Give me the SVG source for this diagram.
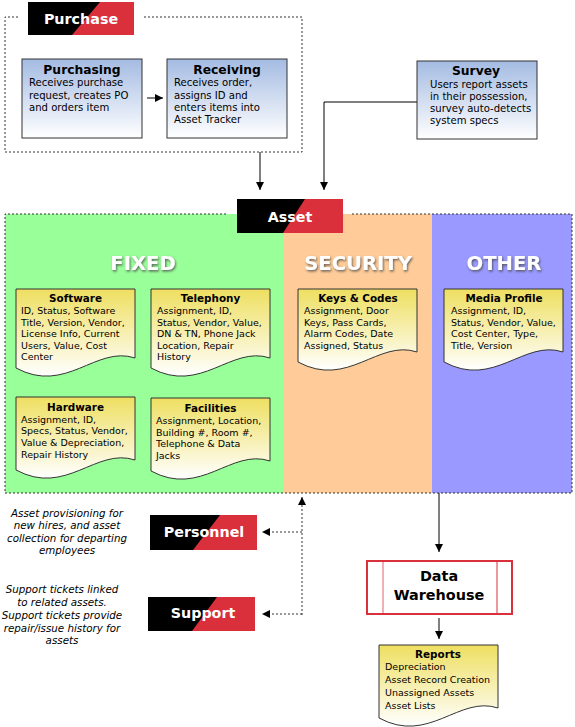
<svg xmlns="http://www.w3.org/2000/svg" xmlns:xlink="http://www.w3.org/1999/xlink" width="575" height="727" viewBox="0 0 575 727">
<style>
text{font-family:"DejaVu Sans",Verdana,sans-serif;fill:#000}
.lbl{font-weight:bold;font-size:14.3px;fill:#fff;text-anchor:middle}
.bt{font-weight:bold;font-size:12.3px;text-anchor:middle}
.bx{font-size:10.1px}
.dt{font-weight:bold;font-size:10.4px;text-anchor:middle}
.dx{font-size:9.5px}
.hd{font-weight:bold;font-size:19.6px;fill:#fff;text-anchor:middle}
.it{font-style:italic;font-size:10.3px;text-anchor:middle}
.box{fill:url(#gb);stroke:#333;stroke-width:1}
.doc{fill:url(#gy);stroke:#333;stroke-width:1}
.dot{fill:none;stroke:#333;stroke-width:1;stroke-dasharray:2,2}
.ln{fill:none;stroke:#000;stroke-width:1}
.red{fill:#d9303c}
</style>
<defs>
<linearGradient id="gb" x1="0" y1="0" x2="0" y2="1"><stop offset="0" stop-color="#a4bbe2"/><stop offset="1" stop-color="#ffffff"/></linearGradient>
<linearGradient id="gy" x1="0" y1="0" x2="0" y2="1"><stop offset="0" stop-color="#eedf60"/><stop offset="1" stop-color="#ffffff"/></linearGradient>
<path id="docp" d="M0,0 H119 V63 C80,50 50,100 0,73 Z"/>
<path id="docp2" d="M0,0 H119 V69 C80,56 50,106 0,79 Z"/>
<marker id="ar" markerWidth="8" markerHeight="8" refX="8" refY="4" orient="auto" markerUnits="userSpaceOnUse"><path d="M0,0 L8,4 L0,8 z" fill="#000"/></marker>
<filter id="sh" x="-20%" y="-30%" width="140%" height="160%"><feDropShadow dx="1" dy="1.5" stdDeviation="1.2" flood-color="#444" flood-opacity="0.8"/></filter>
</defs>

<g id="asset-area">
<rect x="5" y="214" width="278" height="279" fill="#99ff99"/>
<rect x="283" y="214" width="149" height="279" fill="#ffcc99"/>
<rect x="432" y="214" width="140" height="279" fill="#9999ff"/>
<path class="dot" d="M226,214 H5 V493 H572 V214 H352"/>
<text class="hd" x="143" y="270" filter="url(#sh)">FIXED</text>
<text class="hd" x="358" y="270" filter="url(#sh)">SECURITY</text>
<text class="hd" x="504" y="270" filter="url(#sh)">OTHER</text>
</g>

<g id="purchase-group">
<path class="dot" d="M18,17 H5 V152 H302 V17 H143"/>
</g>

<g id="connectors">
<line class="ln" x1="147" y1="98" x2="163" y2="98" marker-end="url(#ar)"/>
<line class="ln" x1="260" y1="152" x2="260" y2="190" marker-end="url(#ar)"/>
<polyline class="ln" points="417,102 324,102 324,190" marker-end="url(#ar)"/>
<line class="ln" x1="439" y1="493" x2="439" y2="552" marker-end="url(#ar)"/>
<line class="ln" x1="439" y1="618" x2="439" y2="639" marker-end="url(#ar)"/>
<line class="dot" x1="302" y1="615" x2="302" y2="497" marker-end="url(#ar)"/>
<line class="dot" x1="302" y1="532" x2="262" y2="532" marker-end="url(#ar)"/>
<line class="dot" x1="302" y1="614" x2="262" y2="614" marker-end="url(#ar)"/>
</g>

<g id="purchase-label">
<rect x="28" y="2" width="106" height="33" class="red"/>
<polygon points="28,2 100,2 72,35 28,35" fill="#000"/>
<text class="lbl" x="81" y="24">Purchase</text>
</g>

<g id="purchasing">
<rect class="box" x="22" y="59" width="120" height="79"/>
<text class="bt" x="82" y="74">Purchasing</text>
<text class="bx" x="29" y="86">Receives purchase</text>
<text class="bx" x="29" y="99">request, creates PO</text>
<text class="bx" x="29" y="111">and orders item</text>
</g>

<g id="receiving">
<rect class="box" x="167" y="59" width="120" height="79"/>
<text class="bt" x="227" y="74">Receiving</text>
<text class="bx" x="174" y="86">Receives order,</text>
<text class="bx" x="174" y="99">assigns ID and</text>
<text class="bx" x="174" y="111">enters items into</text>
<text class="bx" x="174" y="123">Asset Tracker</text>
</g>

<g id="survey">
<rect class="box" x="417" y="61" width="120" height="78"/>
<text class="bt" x="476" y="75">Survey</text>
<text class="bx" x="430" y="88">Users report assets</text>
<text class="bx" x="430" y="100">in their possession,</text>
<text class="bx" x="430" y="112">survey auto-detects</text>
<text class="bx" x="430" y="124">system specs</text>
</g>

<g id="asset-label">
<rect x="237" y="199" width="106" height="34" class="red"/>
<polygon points="237,199 305,199 283,233 237,233" fill="#000"/>
<text class="lbl" x="290" y="222">Asset</text>
</g>

<g id="software">
<use href="#docp2" class="doc" x="16" y="289"/>
<text class="dt" x="75.5" y="302">Software</text>
<text class="dx" x="21" y="314">ID, Status, Software</text>
<text class="dx" x="21" y="326">Title, Version, Vendor,</text>
<text class="dx" x="21" y="337">License Info, Current</text>
<text class="dx" x="21" y="349">Users, Value, Cost</text>
<text class="dx" x="21" y="360">Center</text>
</g>

<g id="telephony">
<use href="#docp2" class="doc" x="151" y="289"/>
<text class="dt" x="210.5" y="302">Telephony</text>
<text class="dx" x="157" y="314">Assignment, ID,</text>
<text class="dx" x="157" y="326">Status, Vendor, Value,</text>
<text class="dx" x="157" y="337">DN &amp; TN, Phone Jack</text>
<text class="dx" x="157" y="349">Location, Repair</text>
<text class="dx" x="157" y="360">History</text>
</g>

<g id="hardware">
<use href="#docp" class="doc" x="16" y="397"/>
<text class="dt" x="75.5" y="411">Hardware</text>
<text class="dx" x="21" y="423">Assignment, ID,</text>
<text class="dx" x="21" y="434">Specs, Status, Vendor,</text>
<text class="dx" x="21" y="446">Value &amp; Depreciation,</text>
<text class="dx" x="21" y="458">Repair History</text>
</g>

<g id="facilities">
<use href="#docp" class="doc" x="151" y="398"/>
<text class="dt" x="210.5" y="412">Facilities</text>
<text class="dx" x="156" y="424">Assignment, Location,</text>
<text class="dx" x="156" y="436">Building #, Room #,</text>
<text class="dx" x="156" y="447">Telephone &amp; Data</text>
<text class="dx" x="156" y="459">Jacks</text>
</g>

<g id="keys-codes">
<use href="#docp" class="doc" x="298" y="289"/>
<text class="dt" x="358" y="302">Keys &amp; Codes</text>
<text class="dx" x="304" y="314">Assignment, Door</text>
<text class="dx" x="304" y="326">Keys, Pass Cards,</text>
<text class="dx" x="304" y="337">Alarm Codes, Date</text>
<text class="dx" x="304" y="349">Assigned, Status</text>
</g>

<g id="media-profile">
<use href="#docp" class="doc" x="444" y="289"/>
<text class="dt" x="504" y="302">Media Profile</text>
<text class="dx" x="451" y="314">Assignment, ID,</text>
<text class="dx" x="451" y="326">Status, Vendor, Value,</text>
<text class="dx" x="451" y="337">Cost Center, Type,</text>
<text class="dx" x="451" y="349">Title, Version</text>
</g>

<g id="personnel-note">
<text class="it" x="67" y="517">Asset provisioning for</text>
<text class="it" x="67" y="529">new hires, and asset</text>
<text class="it" x="67" y="542">collection for departing</text>
<text class="it" x="67" y="554">employees</text>
</g>

<g id="personnel">
<rect x="150" y="515" width="107" height="35" class="red"/>
<polygon points="150,515 220,515 193,550 150,550" fill="#000"/>
<text class="lbl" x="204" y="537">Personnel</text>
</g>

<g id="support-note">
<text class="it" x="62" y="593">Support tickets linked</text>
<text class="it" x="62" y="606">to related assets.</text>
<text class="it" x="62" y="619">Support tickets provide</text>
<text class="it" x="62" y="632">repair/issue history for</text>
<text class="it" x="62" y="644">assets</text>
</g>

<g id="support">
<rect x="148" y="597" width="107" height="34" class="red"/>
<polygon points="148,597 217,597 192,631 148,631" fill="#000"/>
<text class="lbl" x="203" y="618">Support</text>
</g>

<g id="data-warehouse">
<rect x="367" y="561" width="145" height="53" fill="#fff" stroke="#d9303c" stroke-width="2"/>
<line x1="383" y1="562" x2="383" y2="613" stroke="#e0606a" stroke-width="1"/>
<line x1="497" y1="562" x2="497" y2="613" stroke="#d9303c" stroke-width="1"/>
<text class="bt" x="439" y="581" style="font-size:14.4px">Data</text>
<text class="bt" x="439" y="600" style="font-size:14.4px">Warehouse</text>
</g>

<g id="reports">
<use href="#docp" class="doc" x="379" y="645"/>
<text class="dt" x="438" y="658">Reports</text>
<text class="dx" x="385" y="670">Depreciation</text>
<text class="dx" x="385" y="683">Asset Record Creation</text>
<text class="dx" x="385" y="696">Unassigned Assets</text>
<text class="dx" x="385" y="709">Asset Lists</text>
</g>
</svg>
